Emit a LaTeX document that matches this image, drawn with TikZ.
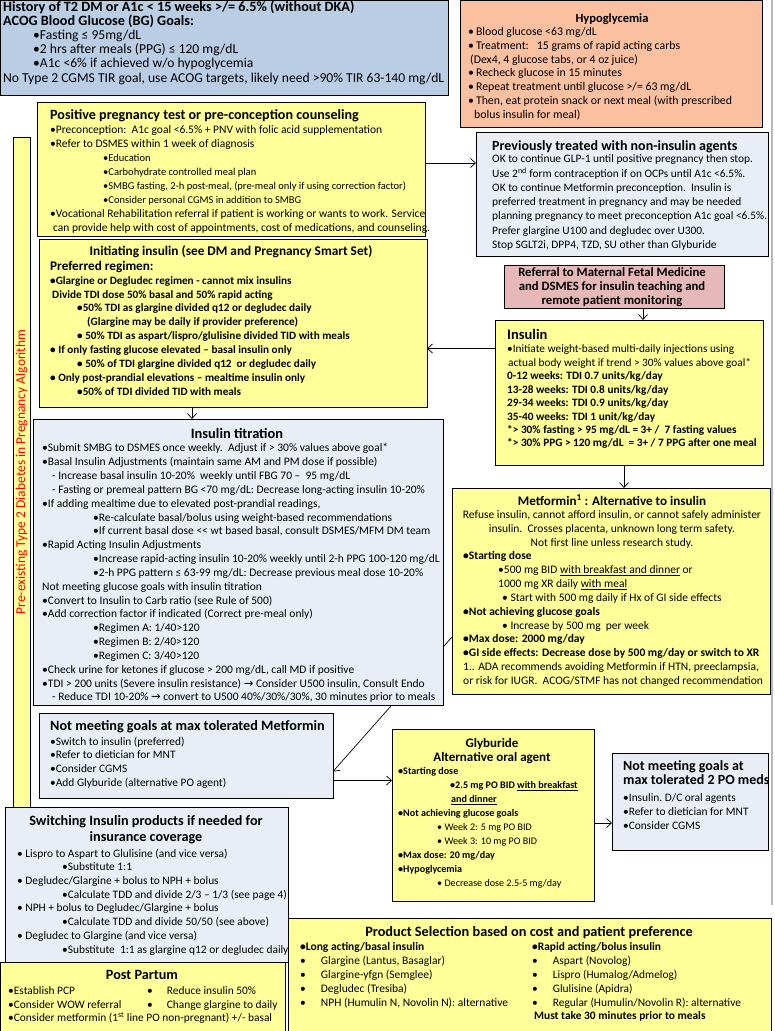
\documentclass[tikz,border=0pt]{standalone}
\usepackage{fontspec}
\setmainfont{Carlito}
\newfontfamily\symfont{DejaVu Sans}
\usetikzlibrary{arrows.meta,positioning}
\definecolor{ink}{RGB}{0,0,0}
\definecolor{goalblue}{RGB}{185,205,229}
\definecolor{hypofill}{RGB}{250,192,160}
\definecolor{yelfill}{RGB}{255,255,153}
\definecolor{greyblue}{RGB}{233,238,246}
\definecolor{mfmpink}{RGB}{230,185,184}
\definecolor{algred}{RGB}{255,0,0}
\pgfdeclarelayer{bg}
\pgfsetlayers{bg,main}
\tikzset{
  card/.style={draw=ink, line width=0.8pt, fill=#1, anchor=north west,
    inner sep=0pt, outer sep=0pt},
  card/.default=yelfill,
  head/.style={anchor=north west, inner sep=0pt, align=left,
    font=\fontsize{14}{14.5}\selectfont\bfseries},
  chead/.style={anchor=north, inner sep=0pt, align=center,
    font=\fontsize{12.5}{14}\selectfont\bfseries},
  body/.style={anchor=north west, inner sep=0pt, align=left,
    font=\fontsize{11.5}{13.83}\selectfont},
  arr/.style={-{Straight Barb[length=5pt,width=9pt]}, line width=0.7pt, draw=ink},
}

\begin{document}
\begin{tikzpicture}[x=1pt,y=-1pt]
  \useasboundingbox (0,0) rectangle (774,1031);
  \draw[gray!55, line width=1.5pt] (772,0) -- (772,905);

  % goals and hypoglycemia
  \node[card=goalblue, minimum width=448pt, minimum height=95pt] (goals) at (0,0) {};
  \node[body, font=\fontsize{13.6}{14.2}\selectfont] (goalstxt) at (3,0.4) {%
    {\fontsize{14.2}{14.2}\selectfont\bfseries History of T2 DM or A1c < 15 weeks >/= 6.5\% (without DKA)}\\
    {\fontsize{14.2}{14.2}\selectfont\bfseries ACOG Blood Glucose (BG) Goals:}\\
    \hspace*{30pt}•Fasting ≤ 95mg/dL\\
    \hspace*{30pt}•2 hrs after meals (PPG) ≤ 120 mg/dL\\
    \hspace*{30pt}•A1c <6\% if achieved w/o hypoglycemia\\
    No Type 2 CGMS TIR goal, use ACOG targets, likely need >90\% TIR 63-140 mg/dL};

  \node[card=hypofill, minimum width=302pt, minimum height=127pt] (hypo) at (460,0) {};
  \node[chead] (hypohd) at (612,13.1) {Hypoglycemia};
  \node[body, font=\fontsize{11.8}{13.7}\selectfont] (hypotxt) at (468,27.5) {%
    •\,Blood glucose <63 mg/dL\\
    •\,Treatment:\ \ \ 15 grams of rapid acting carbs\\
    \hspace*{2pt}(Dex4, 4 glucose tabs, or 4 oz juice)\\
    •\,Recheck glucose in 15 minutes\\
    •\,Repeat treatment until glucose >/= 63 mg/dL\\
    •\,Then, eat protein snack or next meal (with prescribed\\
    \hspace*{6pt}bolus insulin for meal)};

  % side bar
  \node[card, minimum width=17pt, minimum height=670pt] (sidebar) at (13,137) {};
  \node[rotate=90, text=algred, font=\fontsize{13.5}{15}\selectfont] (sidelbl)
    at (sidebar.center) {Pre-existing Type 2 Diabetes in Pregnancy Algorithm};

  % pregnancy / preconception
  \node[card, minimum width=388pt, minimum height=134pt] (preg) at (37,102) {};
  \node[head, font=\fontsize{14.1}{14.5}\selectfont\bfseries] (preghd) at (50,109.4) {%
    Positive pregnancy test or pre-conception counseling};
  \node[body, font=\fontsize{11.5}{13.9}\selectfont] (pregtxt) at (50,125.6) {%
    •Preconception:\ \ A1c goal <6.5\% + PNV with folic acid supplementation\\
    •Refer to DSMES within 1 week of diagnosis\\
    \hspace*{53pt}{\fontsize{10.5}{13.9}\selectfont •Education}\\
    \hspace*{53pt}{\fontsize{10.5}{13.9}\selectfont •Carbohydrate controlled meal plan}\\
    \hspace*{53pt}{\fontsize{10.5}{13.9}\selectfont •SMBG fasting, 2-h post-meal, (pre-meal only if using correction factor)}\\
    \hspace*{53pt}{\fontsize{10.5}{13.9}\selectfont •Consider personal CGMS in addition to SMBG}\\
    •Vocational Rehabilitation referral if patient is working or wants to work. Service\\
    \hspace*{3pt}can provide help with cost of appointments, cost of medications, and counseling.};

  \node[card=greyblue, minimum width=292pt, minimum height=124pt] (prev) at (476,132) {};
  \node[head] (prevhd) at (492,140.4) {Previously treated with non-insulin agents};
  \node[body, font=\fontsize{11.4}{14.3}\selectfont] (prevtxt) at (492,154.6) {%
    OK to continue GLP-1 until positive pregnancy then stop.\\
    Use 2\textsuperscript{nd} form contraception if on OCPs until A1c <6.5\%.\\
    OK to continue Metformin preconception.\ \ Insulin is\\
    preferred treatment in pregnancy and may be needed\\
    planning pregnancy to meet preconception A1c goal <6.5\%.\\
    Prefer glargine U100 and degludec over U300.\\
    Stop SGLT2i, DPP4, TZD, SU other than Glyburide};

  \node[card=mfmpink, minimum width=220pt, minimum height=43pt] (mfm) at (504,265) {};
  \node[chead, font=\fontsize{12.7}{14.3}\selectfont\bfseries] (mfmtxt) at (612,267) {%
    Referral to Maternal Fetal Medicine\\
    and DSMES for insulin teaching and\\
    remote patient monitoring};

  % insulin start
  \node[card, minimum width=268pt, minimum height=145pt] (ins) at (495,320) {};
  \node[head, font=\fontsize{14.5}{14}\selectfont\bfseries] (inshd) at (507,329.2) {Insulin};
  \node[body, font=\fontsize{11.3}{13.45}\selectfont] (instxt) at (507,344.7) {%
    •Initiate weight-based multi-daily injections using\\
    \hspace*{1pt}actual body weight if trend > 30\% values above goal*\\
    \textbf{0-12 weeks: TDI 0.7 units/kg/day}\\
    \textbf{13-28 weeks: TDI 0.8 units/kg/day}\\
    \textbf{29-34 weeks: TDI 0.9 units/kg/day}\\
    \textbf{35-40 weeks: TDI 1 unit/kg/day}\\
    \textbf{*> 30\% fasting > 95 mg/dL = 3+ /\ \ 7 fasting values}\\
    \textbf{*> 30\% PPG > 120 mg/dL\ \ = 3+ / 7 PPG after one meal}};

  \node[card, minimum width=388pt, minimum height=168pt] (init) at (39,239) {};
  \node[chead, font=\fontsize{13.3}{13}\selectfont\bfseries] (inithd) at (231,245.7) {%
    Initiating insulin (see DM and Pregnancy Smart Set)};
  \node[body, font=\fontsize{11.2}{13.9}\selectfont\bfseries] (inittxt) at (50,260.8) {%
    {\fontsize{13.2}{13.9}\selectfont Preferred regimen:}\\
    •Glargine or Degludec regimen - cannot mix insulins\\
    \hspace*{2pt}Divide TDI dose 50\% basal and 50\% rapid acting\\
    \hspace*{27pt}•50\% TDI as glargine divided q12 or degludec daily\\
    \hspace*{37pt}(Glargine may be daily if provider preference)\\
    \hspace*{27pt}• 50\% TDI as aspart/lispro/glulisine divided TID with meals\\
    • If only fasting glucose elevated – basal insulin only\\
    \hspace*{27pt}• 50\% of TDI glargine divided q12\ \ or degludec daily\\
    • Only post-prandial elevations – mealtime insulin only\\
    \hspace*{27pt}•50\% of TDI divided TID with meals};

  % titration
  \node[card=greyblue, minimum width=410pt, minimum height=286pt] (titr) at (33,419) {};
  \node[chead, font=\fontsize{14.4}{14}\selectfont\bfseries] (titrhd) at (237,428.2) {Insulin titration};
  \node[body] (titrtxt) at (42,443.6) {%
    •Submit SMBG to DSMES once weekly.\ \ Adjust if > 30\% values above goal*\\
    •Basal Insulin Adjustments (maintain same AM and PM dose if possible)\\
    \hspace*{10pt}- Increase basal insulin 10-20\%\ \ weekly until FBG 70 –\ \ 95 mg/dL\\
    \hspace*{10pt}- Fasting or premeal pattern BG <70 mg/dL: Decrease long-acting insulin 10-20\%\\
    •If adding mealtime due to elevated post-prandial readings,\\
    \hspace*{51pt}•Re-calculate basal/bolus using weight-based recommendations\\
    \hspace*{51pt}•If current basal dose <{}< wt based basal, consult DSMES/MFM DM team\\
    •Rapid Acting Insulin Adjustments\\
    \hspace*{51pt}•Increase rapid-acting insulin 10-20\% weekly until 2-h PPG 100-120 mg/dL\\
    \hspace*{51pt}•2-h PPG pattern ≤ 63-99 mg/dL: Decrease previous meal dose 10-20\%\\
    Not meeting glucose goals with insulin titration\\
    •Convert to Insulin to Carb ratio (see Rule of 500)\\
    •Add correction factor if indicated (Correct pre-meal only)\\
    \hspace*{51pt}•Regimen A: 1/40>120\\
    \hspace*{51pt}•Regimen B: 2/40>120\\
    \hspace*{51pt}•Regimen C: 3/40>120\\
    •Check urine for ketones if glucose > 200 mg/dL, call MD if positive\\
    •TDI > 200 units (Severe insulin resistance) {\symfont →} Consider U500 insulin, Consult Endo\\
    \hspace*{10pt}- Reduce TDI 10-20\% {\symfont →} convert to U500 40\%/30\%/30\%, 30 minutes prior to meals};

  % metformin path
  \node[card, minimum width=318pt, minimum height=206pt] (metf) at (452,488) {};
  \node[chead, font=\fontsize{13.1}{14}\selectfont\bfseries] (metfhd) at (612,494.8) {%
    Metformin\textsuperscript{1} : Alternative to insulin};
  \node[chead, font=\fontsize{11.5}{13.83}\selectfont] (metfnote) at (612,510.6) {%
    Refuse insulin, cannot afford insulin, or cannot safely administer\\
    insulin.\ \ Crosses placenta, unknown long term safety.\\
    Not first line unless research study.};
  \node[body] (metftxt) at (463,551.6) {%
    \textbf{•Starting dose}\\
    \hspace*{35pt}•500 mg BID \underline{with breakfast and dinner} or\\
    \hspace*{35pt}1000 mg XR daily \underline{with meal}\\
    \hspace*{39pt}• Start with 500 mg daily if Hx of GI side effects\\
    \textbf{•Not achieving glucose goals}\\
    \hspace*{39pt}• Increase by 500 mg\ \ per week\\
    \textbf{•Max dose: 2000 mg/day}\\
    \textbf{•GI side effects: Decrease dose by 500 mg/day or switch to XR}\\
    1.. ADA recommends avoiding Metformin if HTN, preeclampsia,\\
    or risk for IUGR.\ \ ACOG/STMF has not changed recommendation};

  \node[card=greyblue, minimum width=294pt, minimum height=85pt] (nomet) at (39,713) {};
  \node[head, font=\fontsize{14.2}{15}\selectfont\bfseries] (nomethd) at (50,720.3) {%
    Not meeting goals at max tolerated Metformin};
  \node[body, font=\fontsize{11.4}{13.7}\selectfont] (nomettxt) at (50,736.6) {%
    •Switch to insulin (preferred)\\
    •Refer to dietician for MNT\\
    •Consider CGMS\\
    •Add Glyburide (alternative PO agent)};

  \node[card, minimum width=202pt, minimum height=172pt] (glyb) at (392,729) {};
  \node[chead, font=\fontsize{13}{14}\selectfont\bfseries] (glybhd) at (492,737.9) {%
    Glyburide\\Alternative oral agent};
  \node[body, font=\fontsize{10.1}{14}\selectfont] (glybtxt) at (398,767.3) {%
    \textbf{•Starting dose}\\
    \hspace*{52pt}\textbf{•2.5 mg PO BID \underline{with breakfast}}\\
    \hspace*{53pt}\textbf{\underline{and dinner}}\\
    \textbf{•Not achieving glucose goals}\\
    \hspace*{39pt}• Week 2: 5 mg PO BID\\
    \hspace*{39pt}• Week 3: 10 mg PO BID\\
    \textbf{•Max dose: 20 mg/day}\\
    \textbf{•Hypoglycemia}\\
    \hspace*{39pt}• Decrease dose 2.5-5 mg/day};

  \node[card=greyblue, minimum width=156pt, minimum height=97pt] (nopo) at (612,753) {};
  \node[head, font=\fontsize{14}{14.5}\selectfont\bfseries] (nopohd) at (623,760.4) {%
    Not meeting goals at\\ max tolerated 2 PO meds};
  \node[body, font=\fontsize{11.4}{14}\selectfont] (nopotxt) at (623,793.6) {%
    •Insulin.\ D/C oral agents\\
    •Refer to dietician for MNT\\
    •Consider CGMS};

  % bottom row
  \node[card, minimum width=483pt, minimum height=130pt] (prod) at (288,918) {};
  \node[chead, font=\fontsize{14.3}{15}\selectfont\bfseries] (prodhd) at (529,926.3) {%
    Product Selection based on cost and patient preference};
  \node[body, font=\fontsize{11.5}{13.8}\selectfont] (prodl) at (300,942.6) {%
    \textbf{•Long acting/basal insulin}\\
    •\hspace*{15pt}Glargine (Lantus, Basaglar)\\
    •\hspace*{15pt}Glargine-yfgn (Semglee)\\
    •\hspace*{15pt}Degludec (Tresiba)\\
    •\hspace*{15pt}NPH (Humulin N, Novolin N): alternative};
  \node[body, font=\fontsize{11.4}{13.8}\selectfont] (prodr) at (532,942.6) {%
    \textbf{•Rapid acting/bolus insulin}\\
    •\hspace*{15pt}Aspart (Novolog)\\
    •\hspace*{15pt}Lispro (Humalog/Admelog)\\
    •\hspace*{15pt}Glulisine (Apidra)\\
    •\hspace*{15pt}Regular (Humulin/Novolin R): alternative\\
    \hspace*{2pt}\textbf{Must take 30 minutes prior to meals}};

  \node[card=greyblue, minimum width=283pt, minimum height=155pt] (swap) at (5,807) {};
  \node[chead, font=\fontsize{14.2}{16}\selectfont\bfseries] (swaphd) at (146,815.3) {%
    Switching Insulin products if needed for\\ insurance coverage};
  \node[body, font=\fontsize{11.4}{13.7}\selectfont] (swaptxt) at (17,848.6) {%
    • Lispro to Aspart to Glulisine (and vice versa)\\
    \hspace*{45pt}•Substitute 1:1\\
    • Degludec/Glargine + bolus to NPH + bolus\\
    \hspace*{45pt}•Calculate TDD and divide 2/3 – 1/3 (see page 4)\\
    • NPH + bolus to Degludec/Glargine + bolus\\
    \hspace*{45pt}•Calculate TDD and divide 50/50 (see above)\\
    • Degludec to Glargine (and vice versa)\\
    \hspace*{45pt}•Substitute\ \ 1:1 as glargine q12 or degludec daily};

  \node[card, minimum width=285pt, minimum height=80pt] (post) at (0,962) {};
  \node[chead, font=\fontsize{14.2}{14}\selectfont\bfseries] (posthd) at (142,970.3) {Post Partum};
  \node[body, font=\fontsize{11.4}{13.5}\selectfont] (postl) at (8,986.6) {%
    •Establish PCP\\
    •Consider WOW referral\\
    •Consider metformin (1\textsuperscript{st} line PO non-pregnant) +/- basal};
  \node[body, font=\fontsize{11.4}{13.5}\selectfont] (postr) at (147,986.6) {%
    •\hspace*{14pt}Reduce insulin 50\%\\
    •\hspace*{14pt}Change glargine to daily};

  % connectors
  \draw[arr] ([yshift=6pt]preg.east) -- ([yshift=6pt]preg.east -| prev.west);
  \draw[arr] ([xshift=29pt]mfm.south) -- ([xshift=29pt]mfm.south |- ins.north);
  \draw[arr] ([yshift=44pt]ins.west) -- ([yshift=44pt]ins.west -| init.east);
  \draw[arr] ([xshift=-41pt]init.south) -- ([xshift=-41pt]init.south |- titr.north);
  \draw[arr] ([xshift=-5pt]ins.south) -- ([xshift=-5pt]ins.south |- metf.north);
  \begin{pgfonlayer}{bg}
    \draw[arr] ([yshift=-46pt]metf.west) -- ([yshift=-16pt]nomet.east);
  \end{pgfonlayer}
  \draw[arr] ([yshift=-25pt]nomet.east) -- ([yshift=-25pt]nomet.east -| glyb.west);
  \draw[arr] ([yshift=-8pt]glyb.east) -- ([yshift=-8pt]glyb.east -| nopo.west);
\end{tikzpicture}
\end{document}
